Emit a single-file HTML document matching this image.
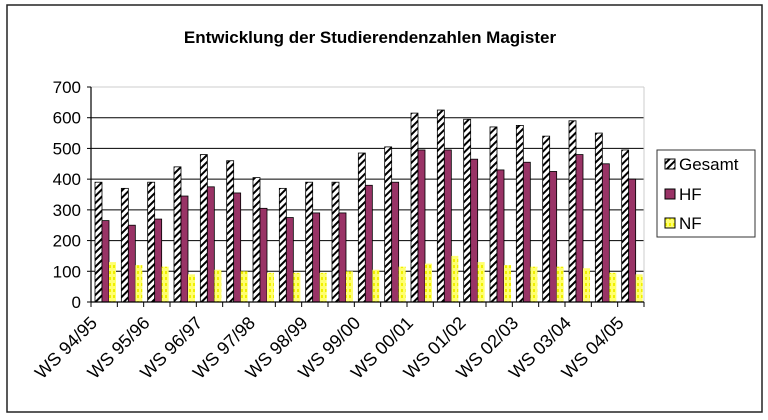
<!DOCTYPE html>
<html><head><meta charset="utf-8"><style>
body{margin:0;background:#fff;}
svg{display:block;font-family:"Liberation Sans",Arial,sans-serif;}
</style></head><body>
<svg width="768" height="420" viewBox="0 0 768 420">
<defs>
<pattern id="hatch" patternUnits="userSpaceOnUse" width="5" height="5" patternTransform="rotate(45)">
<rect width="5" height="5" fill="#fff"/><rect width="2" height="5" fill="#000"/>
</pattern>
<pattern id="dots" patternUnits="userSpaceOnUse" width="4" height="6">
<rect width="4" height="6" fill="#ffff70"/><rect x="1" y="1" width="2" height="3" fill="#f0f000"/>
</pattern>
</defs>
<rect x="7" y="5" width="755" height="407" fill="#fff" stroke="#222" stroke-width="1.5"/>
<text x="370" y="43" font-size="17" font-weight="bold" text-anchor="middle">Entwicklung der Studierendenzahlen Magister</text>
<g id="grid"></g>
<g id="bars"></g>
<g id="axes"></g>
<g>
<rect x="657" y="150" width="98" height="87" fill="#fff" stroke="#333"/>
<rect x="665" y="159" width="10" height="10" fill="url(#hatch)" stroke="#000"/>
<text x="679" y="170" font-size="17">Gesamt</text>
<rect x="665" y="189" width="10" height="10" fill="#993366" stroke="#000"/>
<text x="679" y="200" font-size="17">HF</text>
<rect x="665" y="218" width="10" height="10" fill="url(#dots)" stroke="#000"/>
<text x="679" y="229" font-size="17">NF</text>
</g>
</svg>
<script>
const categories=["WS 94/95","SS 95","WS 95/96","SS 96","WS 96/97","SS 97","WS 97/98","SS 98","WS 98/99","SS 99","WS 99/00","SS 00","WS 00/01","SS 01","WS 01/02","SS 02","WS 02/03","SS 03","WS 03/04","SS 04","WS 04/05"];
const gesamt=[390,370,390,440,480,460,405,370,390,390,485,505,615,625,595,570,575,540,590,550,495];
const hf=[265,250,270,345,375,355,305,275,290,290,380,390,495,495,465,430,455,425,480,450,400];
const nf=[130,120,115,90,105,100,95,95,95,100,105,115,125,150,130,120,115,115,110,95,90];
const yTicks=[0,100,200,300,400,500,600,700];
const X0=91,X1=644,Y0=302,Y1=87,YMAX=700;
const gw=(X1-X0)/categories.length;
const y=v=>Y0-(v/YMAX)*(Y0-Y1);
const xg=i=>X0+i*gw;
const NS="http://www.w3.org/2000/svg";
function mk(tag,attrs,parent){const e=document.createElementNS(NS,tag);for(const k in attrs)e.setAttribute(k,attrs[k]);parent.appendChild(e);return e;}
const grid=document.getElementById('grid'),bars=document.getElementById('bars'),axes=document.getElementById('axes');
yTicks.forEach(t=>{
  if(t>0){const l=mk('line',{x1:X0,x2:X1,y1:y(t),y2:y(t),stroke:'#000','stroke-width':1},grid);
  
  }
  const tx=mk('text',{x:X0-10,y:y(t)+6,'font-size':17,'text-anchor':'end'},axes);
  tx.textContent=t;
  
  
  mk('line',{x1:X0-4,x2:X0,y1:y(t),y2:y(t),stroke:'#000'},axes);
});
const bw=7;
categories.forEach((c,i)=>{
  const gx=xg(i)+4;
  const series=[[gesamt,'url(#hatch)','gesamt'],[hf,'#993366','hf'],[nf,'url(#dots)','nf']];
  series.forEach((s,j)=>{
    const v=s[0][i];
    const r=mk('rect',{x:gx+j*bw,y:y(v),width:bw,height:Y0-y(v),fill:s[1],stroke:s[2]==='nf'?'none':'#000','stroke-width':0.8},bars);
    
    
  });
  mk('line',{x1:xg(i),x2:xg(i),y1:Y0,y2:Y0+5,stroke:'#000'},axes);
  if(i%2===0){
    const cx=xg(i)+gw/2-6, cy=Y0+22;
    const t=mk('text',{x:cx,y:cy,'font-size':18,'text-anchor':'end',transform:`rotate(-45 ${cx} ${cy})`},axes);
    t.textContent=c;
    
    
  }
});
mk('line',{x1:X1,x2:X1,y1:Y0,y2:Y0+5,stroke:'#000'},axes);
const ax=mk('line',{x1:X0,x2:X1,y1:Y0,y2:Y0,stroke:'#000','stroke-width':1.2},axes);


const ay=mk('line',{x1:X0,x2:X0,y1:Y1,y2:Y0,stroke:'#000','stroke-width':1.2},axes);


mk('line',{x1:X0,x2:X1,y1:Y1,y2:Y1,stroke:'#ccc'},grid);
mk('line',{x1:X1,x2:X1,y1:Y1,y2:Y0,stroke:'#ccc'},grid);
</script>
</body></html>
